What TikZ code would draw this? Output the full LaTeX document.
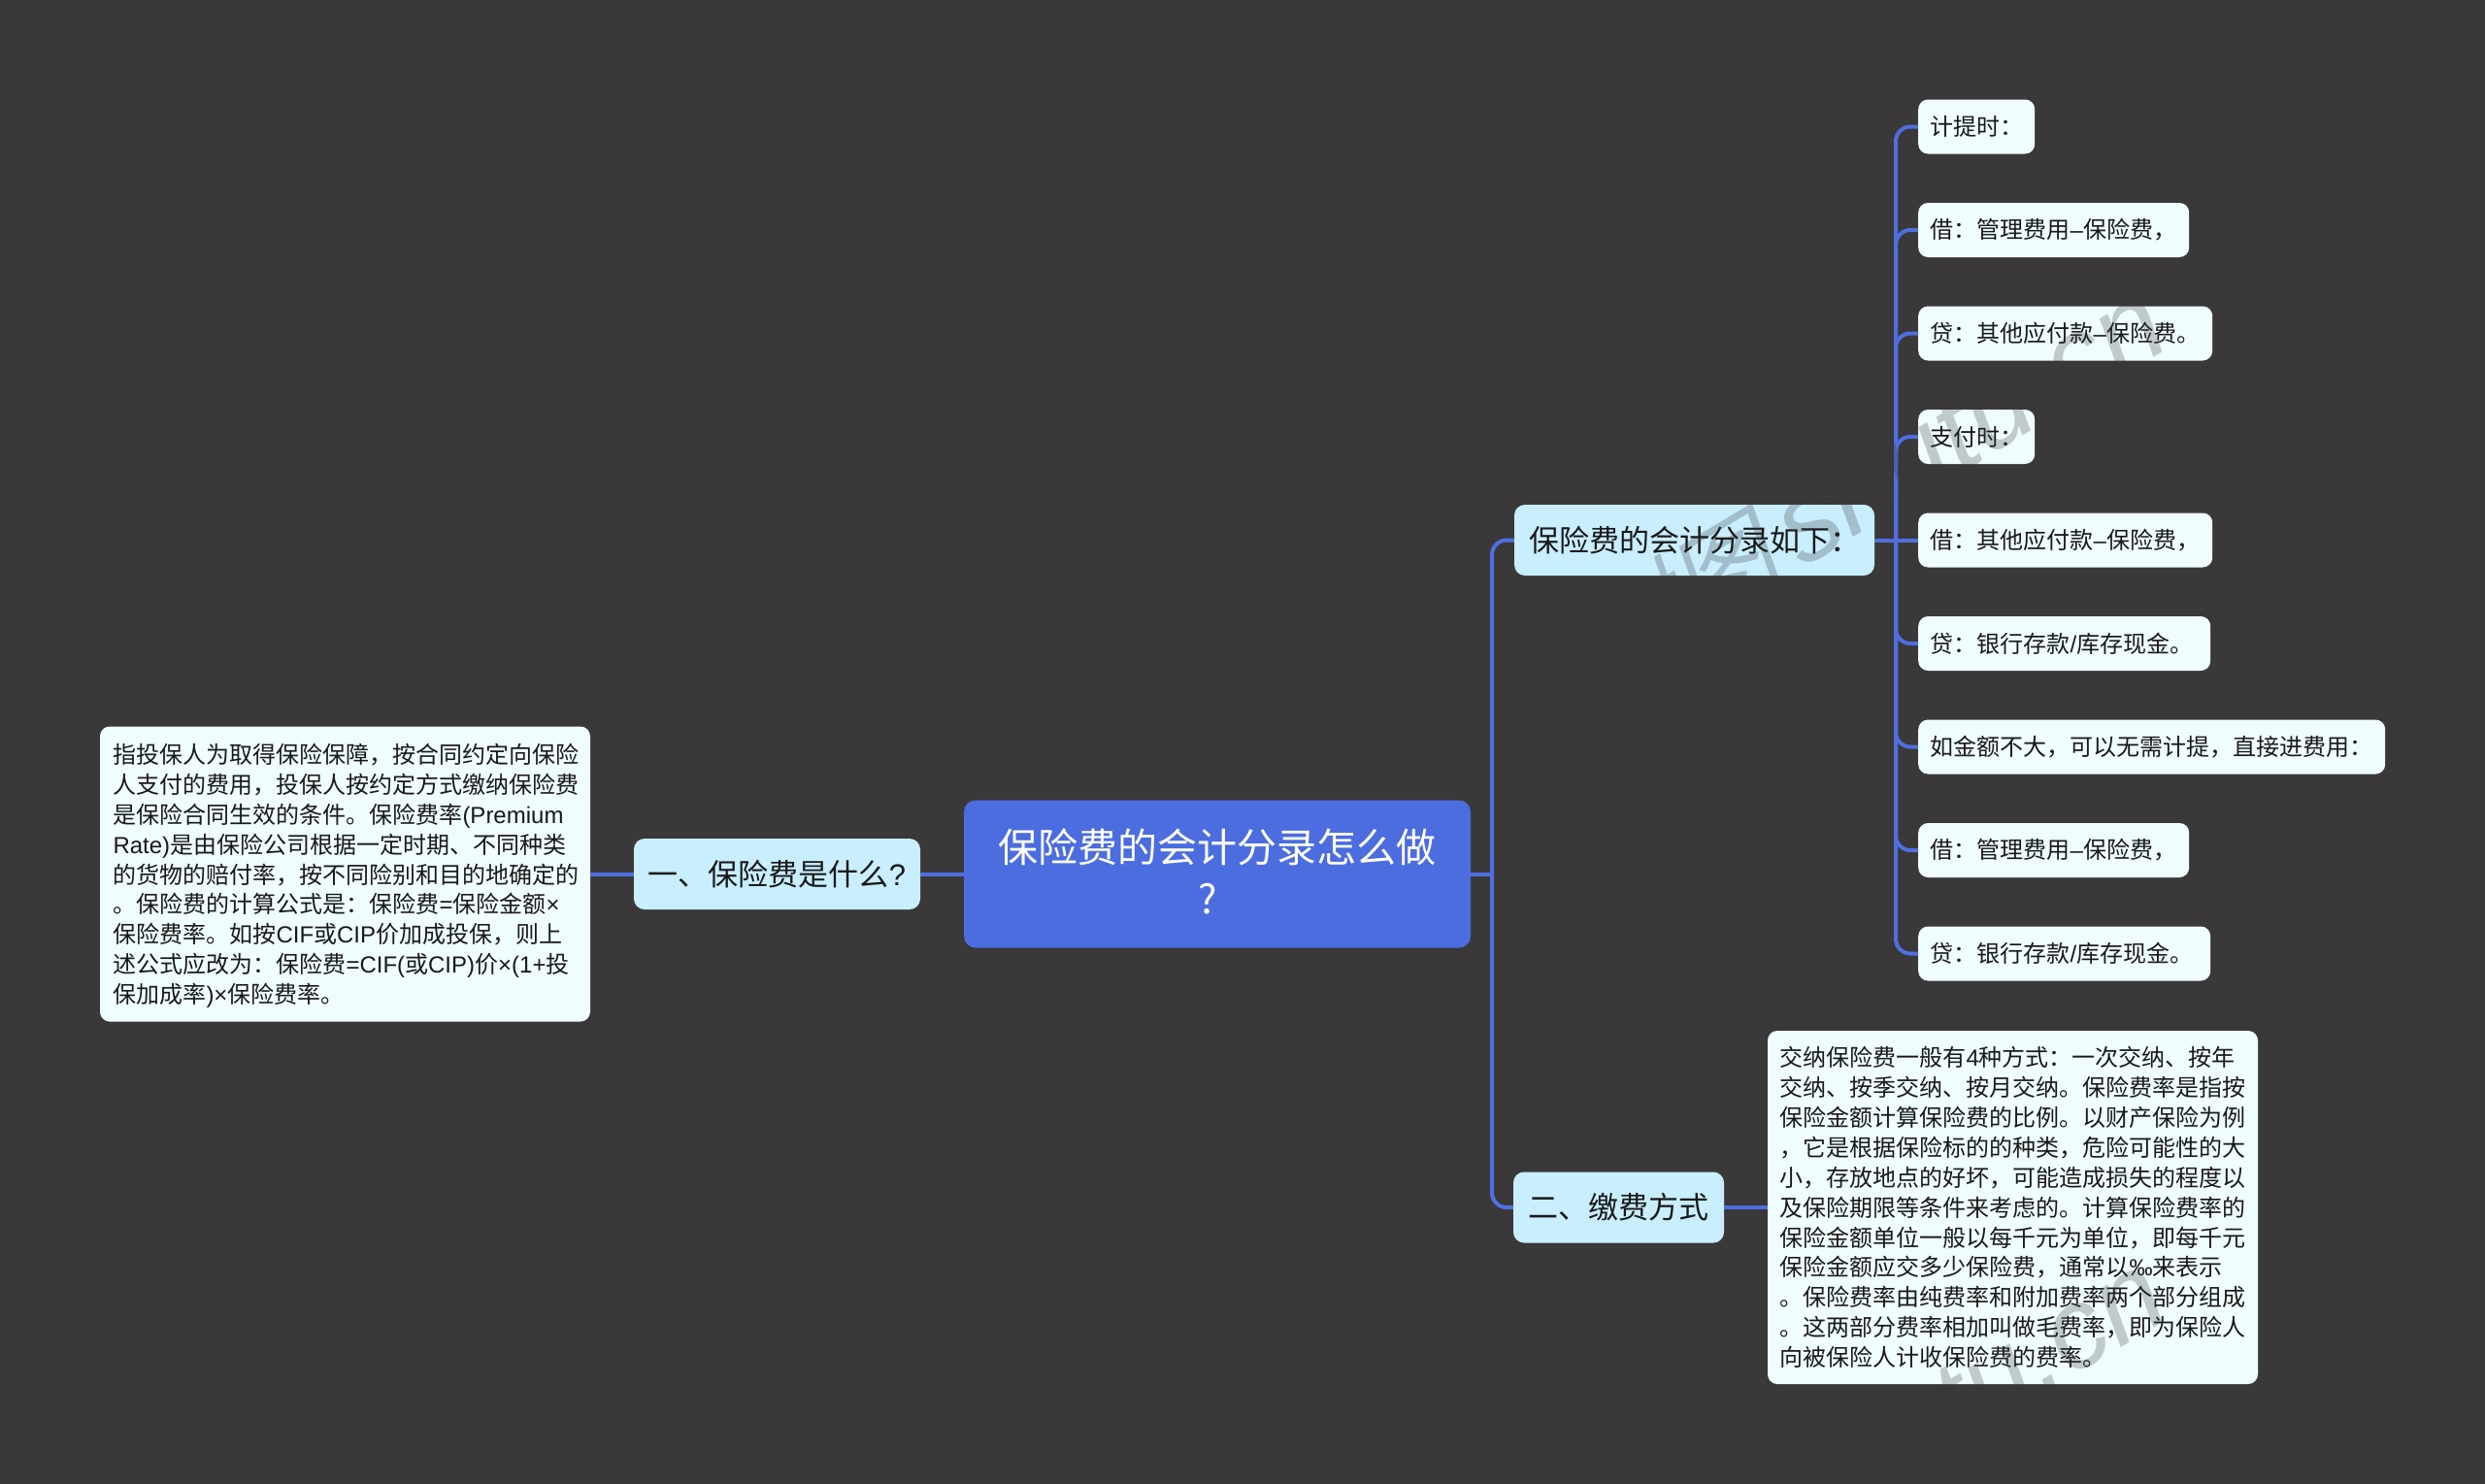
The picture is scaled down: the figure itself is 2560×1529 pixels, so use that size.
\documentclass[tikz,border=0pt]{standalone}
\usepackage{fontspec}
\setmainfont{Noto Sans CJK SC}
\newfontfamily\lat{Liberation Sans}
\newfontfamily\wmcjk[FakeSlant=0.2]{Noto Sans CJK SC}
\newcommand\LL[1]{{\lat #1}}
\newcommand\ND{\mbox{\lat –}}
\definecolor{bgc}{HTML}{3A3839}
\definecolor{linec}{HTML}{4E6FDF}
\definecolor{rootc}{HTML}{4C6DDF}
\definecolor{topicc}{HTML}{C8EEFF}
\definecolor{leafc}{HTML}{F0FDFF}
\definecolor{wmc}{HTML}{383637}
\tikzset{
  x=1pt,y=-1pt,
  rootbox/.style={fill=rootc,text=white,rounded corners=12pt,align=center,inner sep=0pt,minimum width=522pt,minimum height=152pt,
    font=\fontsize{41}{54}\selectfont},
  topicbox/.style={fill=topicc,text=black!90,rounded corners=11pt,inner sep=0pt,minimum height=73pt,
    font=\fontsize{31}{36}\selectfont},
  leafbox/.style={fill=leafc,text=black!90,rounded corners=10pt,inner xsep=12.5pt,inner ysep=0pt,minimum height=56pt,align=left,
    font=\fontsize{24}{30.85}\selectfont},
  conn/.style={draw=linec,line width=4pt},
  curved/.style={conn,rounded corners=15pt},
  wm/.style={rotate=31,text=wmc,text opacity=.26,inner sep=0pt,font=\fontsize{105}{110}\selectfont}
}
\newcommand\wmark{{\wmcjk 树图}\hspace{18pt}{\fontsize{118}{120}\lat\itshape shutu.cn}}
\begin{document}
\begin{tikzpicture}
\useasboundingbox[fill=bgc] (0,0) rectangle (2560,1529);
\node[rootbox] (root) at (1254,900.5) {保险费的会计分录怎么做\\[-1pt]?\hspace*{20pt}\rule[-6pt]{0pt}{1pt}};
\node[topicbox,minimum width=295pt] (t1) at (800.5,900.5) {一、保险费是什么\LL{?}};
\node[leafbox,text width=480pt,minimum height=304pt] (l0) at (355.5,900.5) {\rule{0pt}{24pt}\hspace*{1pt}指投保人为取得保险保障，按合同约定向保险\\
\hspace*{1pt}人支付的费用，投保人按约定方式缴纳保险费\\
\hspace*{1pt}是保险合同生效的条件。保险费率\LL{(Premium}\\
\hspace*{1pt}\LL{Rate)}是由保险公司根据一定时期、不同种类\\
\hspace*{1pt}的货物的赔付率，按不同险别和目的地确定的\\
\hspace*{1pt}。保险费的计算公式是：保险费\LL{=}保险金额\LL{×}\\
\hspace*{1pt}保险费率。如按\LL{CIF}或\LL{CIP}价加成投保，则上\\
\hspace*{1pt}述公式应改为：保险费\LL{=CIF(}或\LL{CIP)}价\LL{×(1+}投\\
\hspace*{1pt}保加成率\LL{)×}保险费率。};
\node[topicbox,minimum width=371pt] (t2) at (1745.5,556.5) {保险费的会计分录如下：};
\node[topicbox,minimum width=217pt] (t3) at (1667.5,1244) {二、缴费方式};
\node[leafbox,text width=95pt,anchor=west] (a1) at (1976,130.5) {计提时：};
\node[leafbox,text width=254pt,anchor=west] (a2) at (1976,237) {借：管理费用\ND 保险费，};
\node[leafbox,text width=278pt,anchor=west] (a3) at (1976,343.5) {贷：其他应付款\ND 保险费。};
\node[leafbox,text width=95pt,anchor=west] (a4) at (1976,450) {支付时：};
\node[leafbox,text width=278pt,anchor=west] (a5) at (1976,556.5) {借：其他应付款\ND 保险费，};
\node[leafbox,text width=276pt,anchor=west] (a6) at (1976,663) {贷：银行存款\LL{/}库存现金。};
\node[leafbox,text width=456pt,anchor=west] (a7) at (1976,769.5) {如金额不大，可以无需计提，直接进费用：};
\node[leafbox,text width=254pt,anchor=west] (a8) at (1976,876) {借：管理费用\ND 保险费，};
\node[leafbox,text width=276pt,anchor=west] (a9) at (1976,982.5) {贷：银行存款\LL{/}库存现金。};
\node[leafbox,text width=480pt,minimum height=364pt] (b1) at (2073.5,1244) {交纳保险费一般有\LL{4}种方式：一次交纳、按年\\
交纳、按季交纳、按月交纳。保险费率是指按\\
保险金额计算保险费的比例。以财产保险为例\\
，它是根据保险标的的种类，危险可能性的大\\
小，存放地点的好坏，可能造成损失的程度以\\
及保险期限等条件来考虑的。计算保险费率的\\
保险金额单位一般以每千元为单位，即每千元\\
保险金额应交多少保险费，通常以\LL{‰}来表示\\
。保险费率由纯费率和附加费率两个部分组成\\
。这两部分费率相加叫做毛费率，即为保险人\\
向被保险人计收保险费的费率。};
\coordinate (rt) at (1537,900.5);
\coordinate (tb) at (1953,556.5);
\draw[conn] (l0.east) -- (t1.west);
\draw[conn] (t1.east) -- (root.west);
\draw[conn] (root.east) -- (rt);
\draw[curved] (rt) |- (t2.west);
\draw[curved] (rt) |- (t3.west);
\draw[conn] (t3.east) -- (b1.west);
\draw[conn] (t2.east) -- (a5.west);
\foreach \n in {a1,a2,a3,a4,a6,a7,a8,a9} \draw[curved] (tb) |- (\n.west);
\node[wm] (w1) at (646,515) {\wmark};
\node[wm] (w2) at (1930,495) {\wmark};
\node[wm] (w3) at (646,1515) {\wmark};
\node[wm] (w4) at (1930,1495) {\wmark};
\end{tikzpicture}
\end{document}
